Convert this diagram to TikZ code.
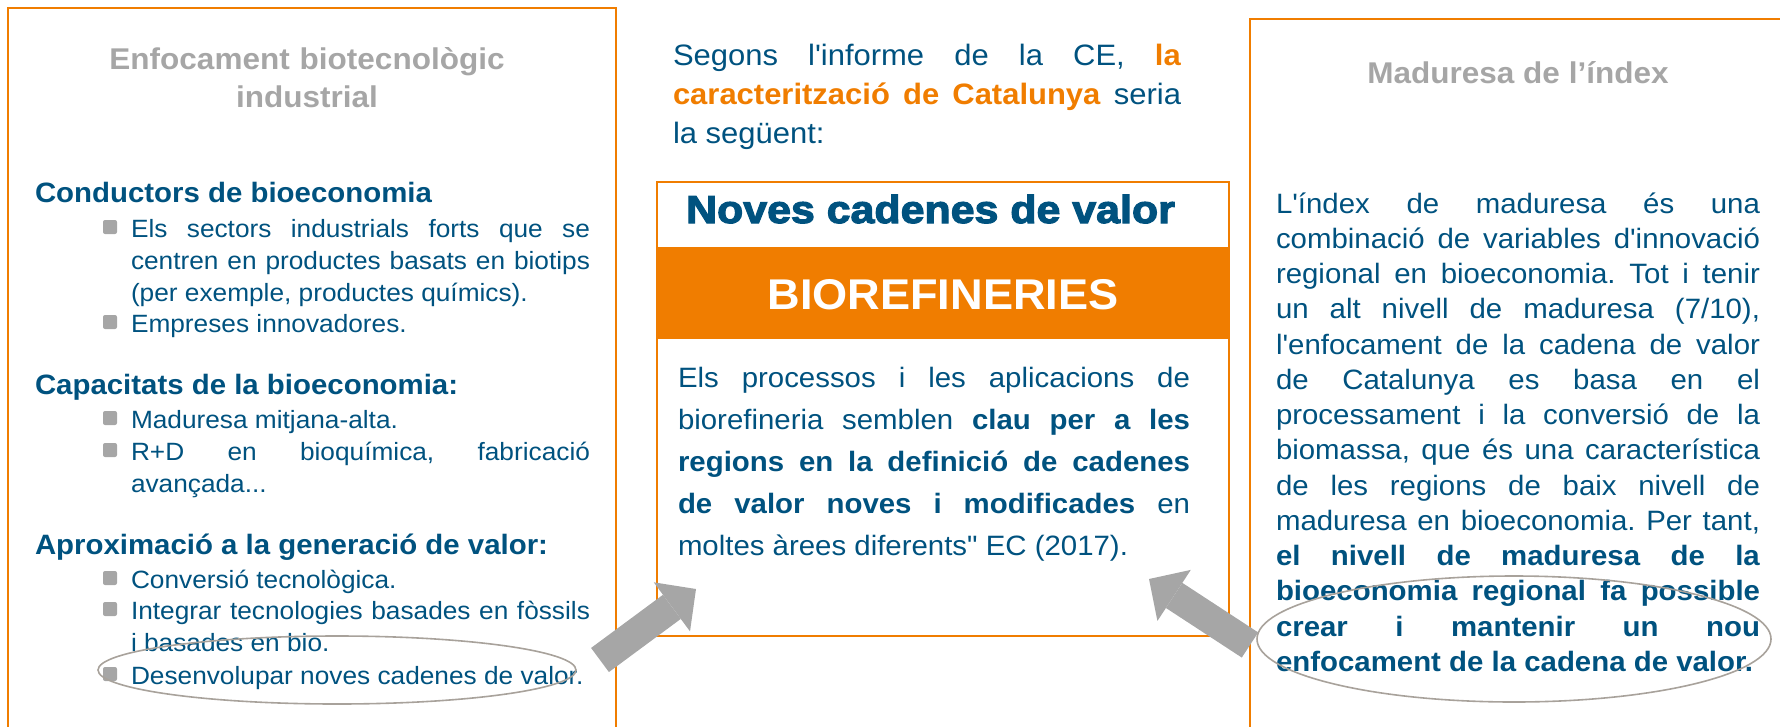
\documentclass[tikz,border=0pt]{standalone}
\usepackage{fontspec}
\newfontfamily\lib{Liberation Sans}[FakeStretch=1.05]
\newfontface\heavyfont{Liberation Sans Bold}[FakeStretch=1.1, FakeBold=3]
\usetikzlibrary{arrows.meta}
\definecolor{cblue}{HTML}{00527F}
\definecolor{corange}{HTML}{F07D00}
\definecolor{cgray}{HTML}{A6A6A6}
\definecolor{cellgray}{HTML}{A8A29B}
\newcommand{\fsz}[2]{\fontsize{#1}{#2}\selectfont}
\hyphenpenalty=10000
\exhyphenpenalty=10000
\frenchspacing
\tikzset{
  frame/.style={draw=corange, line width=2pt},
  ltitle/.style={font=\lib\bfseries\fsz{30}{38}, text=cgray, text width=560pt, align=center, anchor=base},
  head/.style={font=\lib\bfseries\fsz{28}{34}, text=cblue, anchor=base west},
  item/.style={font=\lib\fsz{25}{32}, text=cblue, text width=459pt, align=justify, anchor=base west},
  bsq/.style={fill=cgray, rounded corners=2pt, minimum size=14pt},
  intro/.style={font=\lib\fsz{29.5}{39}, text=cblue, text width=508pt, align=justify, anchor=base west},
  body/.style={font=\lib\fsz{28}{42}, text=cblue, text width=512pt, align=justify, anchor=base west},
  rbody/.style={font=\lib\fsz{28}{35.25}, text=cblue, text width=484pt, align=justify, anchor=base west},
  ellip/.style={draw=cellgray, line width=1.6pt},
  blockarrow/.style={draw=cgray, line width=30pt, -{Triangle[length=30pt, width=61pt, line width=0pt]}},
}
\begin{document}
\begin{tikzpicture}[x=1pt, y=-1pt, inner sep=0pt, outer sep=0pt]
\useasboundingbox (0,0) rectangle (1780,726);

% ---------- left box ----------
\draw[frame] (8,740) -- (8,8) -- (616,8) -- (616,740);
\node[ltitle] (ltitle) at (307,69) {Enfocament biotecnològic\\industrial};

\node[head] (h1) at (35,202) {Conductors de bioeconomia};
\node[bsq] (q1) at (110,227) {};
\node[item] (i1) at (131,237) {Els sectors industrials forts que se\linebreak centren en productes basats en biotips\linebreak (per exemple, productes químics).};
\node[bsq] (q2) at (110,322) {};
\node[item] (i2) at (131,332) {Empreses innovadores.};

\node[head] (h2) at (35,394) {Capacitats de la bioeconomia:};
\node[bsq] (q3) at (110,418) {};
\node[item] (i3) at (131,428) {Maduresa mitjana-alta.};
\node[bsq] (q4) at (110,450) {};
\node[item] (i4) at (131,460) {R+D en bioquímica, fabricació\linebreak avançada...};

\node[head] (h3) at (35,554) {Aproximació a la generació de valor:};
\node[bsq] (q5) at (110,578) {};
\node[item] (i5) at (131,588) {Conversió tecnològica.};
\node[bsq] (q6) at (110,609) {};
\node[item] (i6) at (131,619) {Integrar tecnologies basades en fòssils\linebreak i basades en bio.};
\node[bsq] (q7) at (110,674) {};
\node[item] (i7) at (131,684) {Desenvolupar noves cadenes de valor.};

% ---------- middle ----------
\node[intro] (intro) at (673,65) {Segons l'informe de la CE, \textcolor{corange}{\textbf{la}}\linebreak \textcolor{corange}{\textbf{caracterització de Catalunya}} seria\linebreak la següent:};

\fill[corange] (657,247) rectangle (1229,339);
\draw[frame] (657,182) rectangle (1229,636);
\node[font=\heavyfont\fsz{39}{44}, text=cblue, anchor=base] (noves) at (930.5,223) {Noves cadenes de valor};
\node[font=\lib\bfseries\fsz{43}{48}, text=white, anchor=base] (bioref) at (943,309) {BIOREFINERIES};
\node[body] (mbody) at (678,387) {Els processos i les aplicacions de\linebreak biorefineria semblen \textbf{clau per a les}\linebreak \textbf{regions en la definició de cadenes}\linebreak \textbf{de valor noves i modificades} en\linebreak moltes àrees diferents" EC (2017).};

% ---------- right box ----------
\draw[frame] (1250,740) -- (1250,19) -- (1790,19);
\node[font=\lib\bfseries\fsz{30}{36}, text=cgray, anchor=base] (rtitle) at (1518,83) {Maduresa de l’índex};
\node[rbody] (rbody) at (1276,213) {L'índex de maduresa és una\linebreak combinació de variables d'innovació\linebreak regional en bioeconomia. Tot i tenir\linebreak un alt nivell de maduresa (7/10),\linebreak l'enfocament de la cadena de valor\linebreak de Catalunya es basa en el\linebreak processament i la conversió de la\linebreak biomassa, que és una característica\linebreak de les regions de baix nivell de\linebreak maduresa en bioeconomia. Per tant,\linebreak \textbf{el nivell de maduresa de la}\linebreak \textbf{bioeconomia regional fa possible}\linebreak \textbf{crear i mantenir un nou}\linebreak \textbf{enfocament de la cadena de valor.}};

% ---------- ellipses ----------
\draw[ellip] (337,670) ellipse [x radius=239, y radius=34];
\draw[ellip] (1514,639) ellipse [x radius=257, y radius=63];

% ---------- arrows ----------
\coordinate (latail) at (600,660);
\coordinate (latip) at (696,589);
\coordinate (ratail) at (1250,645);
\coordinate (ratip) at (1149,579);
\draw[blockarrow] (latail) -- (latip);
\draw[blockarrow] (ratail) -- (ratip);
\end{tikzpicture}
\end{document}
